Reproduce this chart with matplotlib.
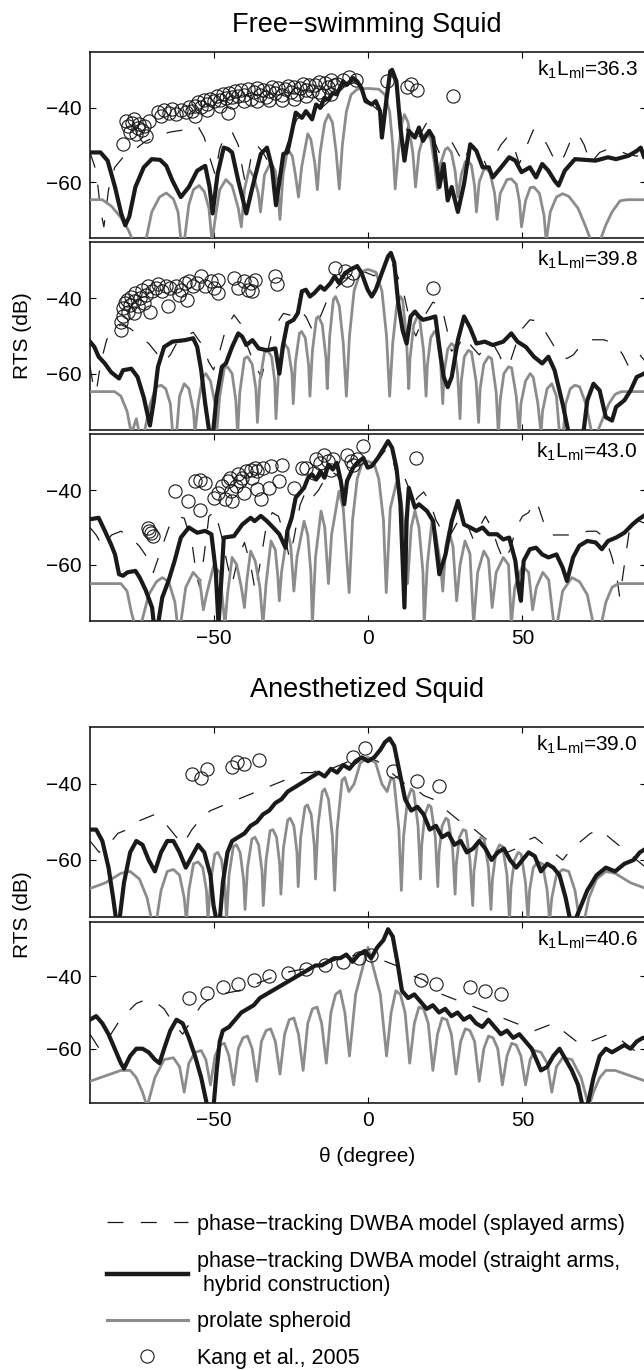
import matplotlib
matplotlib.use("Agg")
import matplotlib.pyplot as plt
from matplotlib.lines import Line2D

plt.rcParams['font.family'] = ['Liberation Sans', 'DejaVu Sans']
plt.rcParams['mathtext.default'] = 'regular'
plt.rcParams['lines.scale_dashes'] = False

# ---------------- data: (theta [degree], RTS [dB]) ----------------
labels_k = ["36.3", "39.8", "43.0", "39.0", "40.6"]

# Panel 1 : free-swimming, k1Lml = 36.3
p1_gray = [(-90,-64.7),(-86,-64.7),(-83,-66.5),(-80,-69.5),(-77.5,-73),(-76,-76),(-72,-76),(-70,-68),(-67.5,-64),(-65.3,-62.9),(-63,-64.5),(-61.5,-68),(-60.5,-76),(-59.5,-76),(-58,-66),(-56.5,-62),(-54.7,-60.9),(-53,-62.5),(-51.5,-67),(-50.5,-76),(-49.5,-70),(-48,-62),(-46,-59.3),(-44,-61),(-42,-67),(-41,-72),(-40,-62),(-38.5,-56.5),(-37,-58.5),(-35.5,-63),(-34.8,-68),(-33.5,-58),(-31.5,-54.7),(-30,-57),(-29,-64),(-28.5,-70),(-27.5,-58),(-26,-51),(-24.5,-53),(-23.5,-58),(-22.5,-64),(-21.5,-56),(-19.5,-47),(-18.5,-48.5),(-17.2,-55),(-16.4,-62),(-15.5,-52),(-14,-44),(-12.8,-41.8),(-11.5,-44),(-10.3,-52),(-9.3,-61.8),(-8.3,-50),(-7,-41),(-5.5,-36.5),(-3.5,-35),(0,-34.8),(3.5,-35),(5.5,-36.5),(7,-41),(8,-50),(8.8,-61.8),(9.8,-52),(11,-44),(11.8,-41.8),(13,-44),(14.5,-52),(15.4,-61.3),(16.5,-52),(18,-47.5),(19.1,-46.7),(20.3,-48.5),(21.5,-55),(22.5,-62),(23.5,-55),(25,-51.2),(25.8,-50.7),(27,-52),(28.2,-57),(29.1,-64),(30.2,-58),(31.5,-54.5),(32.4,-54.2),(33.5,-55.5),(34.5,-61),(35.1,-68),(36,-60),(37.5,-56.6),(38.4,-56.4),(39.5,-57.5),(41,-63),(41.8,-70),(42.8,-63),(45,-59.3),(46.4,-59.1),(48,-60.5),(49,-65),(49.7,-72),(51,-65),(52.5,-61.5),(53.7,-61.3),(55.5,-63),(57,-69),(57.7,-76),(59,-68),(61,-64),(63,-63.1),(65,-63.8),(68,-67),(70.5,-72),(72.3,-76),(75,-76),(77,-71.5),(79,-68),(81.6,-65),(84,-64.7),(90,-64.7)]
p1_black = [(-90,-52.0),(-86.6,-52.0),(-84.3,-54.2),(-81.9,-61.3),(-79.9,-68.4),(-78.6,-71.6),(-77.3,-69.3),(-75.3,-61.3),(-72.6,-56.0),(-70.0,-53.8),(-67.3,-54.0),(-65.3,-55.6),(-63.3,-59.6),(-60.6,-64.0),(-58.0,-61.3),(-55.3,-56.9),(-52.7,-55.6),(-51.3,-61.3),(-50.3,-68.4),(-48.7,-57.8),(-46.7,-50.7),(-45.3,-51.1),(-44.0,-52.0),(-42.0,-59.6),(-39.4,-68.4),(-37.4,-61.3),(-34.7,-52.4),(-32.7,-50.7),(-31.1,-56.0),(-29.8,-66.2),(-28.5,-58.7),(-27.4,-52.4),(-26.1,-52.0),(-24.7,-46.7),(-23.4,-41.3),(-21.4,-42.7),(-20.1,-40.9),(-18.1,-43.1),(-16.8,-39.1),(-15.4,-40.0),(-14.1,-37.3),(-12.8,-37.8),(-11.4,-36.0),(-10.1,-36.4),(-8.1,-32.9),(-6.8,-33.8),(-4.8,-32.0),(-3.5,-32.9),(-2.1,-34.7),(-0.8,-38.2),(1.2,-39.1),(2.5,-38.2),(3.9,-40.9),(4.5,-48.0),(5.9,-38.2),(7.2,-30.2),(7.8,-29.8),(9.2,-32.9),(10.5,-45.3),(11.8,-54.2),(13.2,-46.2),(15.2,-48.0),(16.5,-45.3),(17.8,-48.9),(19.8,-46.2),(21.1,-48.0),(23.1,-61.3),(24.5,-55.1),(25.8,-64.9),(27.1,-61.3),(29.1,-68.0),(31.1,-60.4),(33.1,-49.8),(35.1,-51.6),(37.1,-56.0),(39.1,-56.0),(40.4,-58.7),(43.1,-56.0),(45.7,-53.3),(47.7,-54.2),(49.7,-57.3),(52.4,-56.0),(54.4,-58.7),(56.4,-55.1),(58.4,-56.9),(60.4,-59.6),(61.7,-60.9),(63.7,-56.9),(67.0,-53.8),(73.7,-54.2),(77.7,-53.3),(80.3,-53.8),(84.3,-52.9),(87.0,-51.6),(88.3,-50.7),(89.4,-53.3),(90,-53.0)]
p1_dash = [(-90,-52),(-88,-57),(-86.5,-68),(-85.5,-72),(-84,-62),(-82,-56),(-79,-53),(-76,-51.5),(-72,-49),(-68,-47.5),(-64,-46.5),(-60,-46),(-57,-45.5),(-55,-45),(-53,-48),(-51,-54),(-49.5,-58),(-48,-51),(-46,-47),(-44,-46.5),(-42,-50),(-40.5,-57),(-39.5,-61),(-38,-54),(-36,-50),(-34,-52),(-32,-55),(-30,-60),(-28.5,-58),(-27,-52),(-25,-47),(-23,-43),(-21,-42),(-19,-42.5),(-17,-41),(-15,-40),(-13,-38.5),(-11,-37),(-9,-35),(-7,-33.5),(-5,-33),(-3,-34),(-1,-37),(1,-39),(3,-40.5),(4.5,-46),(5.5,-40),(7,-32),(8.5,-31),(10,-37),(11.5,-48),(13,-45),(15,-50),(17,-47),(19,-44),(21,-48),(23,-52),(25,-50),(27,-49),(29,-52),(31,-55),(33,-50),(35,-50.5),(37,-53),(39,-57),(41,-53),(43,-50),(45,-48),(47,-50),(49,-55),(51,-51),(53.5,-46),(55.5,-46.5),(58,-50),(61,-55),(63.5,-53),(66,-48),(68,-47),(70,-50),(72,-55),(75,-52),(78,-51),(81,-51.5),(84,-52.5),(87,-53),(90,-52)]
p1_circ = [(-79.3,-49.8),(-78.5,-43.5),(-77.8,-45),(-77,-46.5),(-76.5,-44),(-75.8,-43),(-75,-47),(-74.5,-45.5),(-74,-44.3),(-73.3,-46),(-72.5,-44.8),(-71.8,-47.5),(-71,-43.5),(-68,-41),(-67,-42.2),(-66,-40.5),(-64.5,-41.5),(-63.5,-40.2),(-62,-41.8),(-60.5,-40.5),(-59,-41),(-58,-39.8),(-57,-40.8),(-56,-39.5),(-56,-42.2),(-55,-38.5),(-54,-39.8),(-53,-38),(-52,-39),(-52,-40.5),(-51,-37.5),(-50,-38.3),(-49,-36.8),(-48,-37.8),(-48,-39.5),(-47,-36.3),(-46,-37.3),(-45.3,-41.3),(-45,-36),(-44,-37),(-44,-38.5),(-43,-35.5),(-42,-36.8),(-41,-35.2),(-40,-36.5),(-40,-38.3),(-39,-35),(-38,-37.5),(-37,-35.8),(-36,-34.8),(-36,-38.2),(-35,-36.5),(-34,-35.2),(-33,-37.2),(-32,-35.5),(-32,-37.8),(-31,-34.5),(-30,-36),(-29,-34.8),(-28,-36.5),(-28,-38),(-27,-35),(-26,-34.2),(-25,-35.8),(-24,-34.5),(-24,-37.5),(-23,-36.2),(-22,-34.8),(-21,-33.5),(-20,-35.2),(-20,-36.8),(-19,-33.8),(-18,-35.5),(-17,-34),(-16,-33),(-16,-35.8),(-15,-36.5),(-14,-33.2),(-13,-34.5),(-12,-32.5),(-12,-36.2),(-11,-34),(-10,-33.5),(-8,-32.5),(-6,-31.8),(-4,-32.5),(6,-32.9),(12.5,-34.3),(13.8,-33.5),(15.8,-35.3),(27.5,-36.9)]

# Panel 2 : free-swimming, k1Lml = 39.8
p2_gray = [(-90,-64.8),(-82,-64.8),(-80,-66),(-78,-70),(-76.6,-76),(-75,-72),(-74,-76),(-72.5,-76),(-70.5,-68),(-68.5,-63.5),(-67,-63.1),(-65.5,-64),(-64,-68),(-63.2,-76),(-62,-76),(-61,-66),(-59.5,-62.7),(-58,-64),(-56.5,-70),(-56,-76),(-55,-68),(-53.5,-61),(-52.5,-60),(-51,-62),(-49.5,-68),(-49,-76),(-48,-66),(-46.5,-58.5),(-45.5,-58.2),(-44,-60),(-42.8,-67),(-42.2,-76),(-41.5,-65),(-40,-56),(-39,-55.5),(-37.5,-57.5),(-36.3,-64),(-35.8,-73),(-35,-62),(-33.5,-54.3),(-32.5,-53.8),(-31.2,-55.5),(-30.2,-62),(-29.8,-72),(-29,-60),(-27.8,-52.5),(-27,-52),(-25.8,-53.5),(-24.6,-60),(-24.2,-68),(-23.5,-57),(-22.2,-49.3),(-21.5,-48.8),(-20.3,-50.5),(-19.2,-58),(-18.8,-66),(-18,-54),(-16.7,-45.3),(-16,-44.8),(-14.8,-47),(-13.6,-56),(-13.2,-64),(-12.4,-50),(-11.2,-40.3),(-10.5,-39.5),(-9.3,-42),(-8,-52),(-7,-66),(-6,-50),(-4.5,-38),(-2.5,-33),(0,-32.3),(2.5,-33),(4.5,-38),(6,-50),(7,-66),(8,-52),(9.3,-42),(10.5,-39.5),(11.2,-40.3),(12.4,-50),(13.2,-64),(13.6,-56),(14.8,-47),(16,-44.8),(16.7,-45.3),(18,-54),(18.8,-66),(19.2,-58),(20.3,-50.5),(21.5,-48.8),(22.2,-49.3),(23.5,-57),(24.2,-68),(24.6,-60),(25.8,-53.5),(27,-52),(27.8,-52.5),(29,-60),(29.8,-72),(30.2,-62),(31.2,-55.5),(32.5,-53.8),(33.5,-54.3),(35,-62),(35.8,-73),(36.3,-64),(37.5,-57.5),(39,-55.5),(40,-56),(41.5,-65),(42.2,-76),(42.8,-67),(44,-60),(45.5,-58.2),(46.5,-58.5),(48,-66),(49,-76),(49.5,-68),(51,-62),(52.5,-60),(53.5,-61),(55,-68),(56,-76),(56.5,-70),(58,-64),(59.5,-62.7),(61,-66),(62,-76),(63.2,-76),(64,-68),(65.5,-64),(67,-63.1),(68.5,-63.5),(70.5,-68),(72.5,-76),(74,-76),(76,-72),(78,-68),(80,-65.5),(82,-64.8),(90,-64.8)]
p2_black = [(-90,-51.5),(-88.6,-52.9),(-87.2,-55.5),(-85.2,-57.3),(-83.2,-59.6),(-80.6,-61.3),(-79.3,-59.1),(-76.6,-58.7),(-74.6,-60.9),(-72.6,-66.3),(-70.6,-73.8),(-69.3,-67.1),(-68,-58.2),(-66,-52.9),(-63.3,-51.5),(-59.3,-51.1),(-56.6,-50.6),(-55.3,-52.9),(-54,-59.1),(-52.7,-68),(-51.3,-76),(-50.2,-76),(-49,-66),(-47.3,-58.2),(-46,-57.3),(-44,-52.9),(-42,-49.3),(-40.7,-50.2),(-39.4,-52.4),(-37.4,-51.1),(-35.4,-53.3),(-32.7,-53.8),(-30,-53.3),(-28.7,-60),(-27.4,-52),(-26.1,-46.6),(-24.1,-45.7),(-22.7,-43.9),(-21.4,-38.1),(-20.1,-37.7),(-18.8,-39.5),(-17.4,-38.6),(-15.4,-36.8),(-14.1,-37.7),(-12.1,-35.9),(-10.8,-34.1),(-9.4,-35.9),(-7.4,-33.2),(-5.5,-32.3),(-3.5,-31.4),(-2.1,-33.2),(-0.1,-37.7),(1.2,-39.5),(2.5,-37.7),(4.5,-33.2),(6.5,-28.8),(7.4,-27.9),(8.5,-30.5),(9.8,-41.3),(11.2,-48.4),(12.5,-52),(13.8,-44.8),(15.2,-43.5),(16.5,-44.8),(17.8,-45.7),(19.8,-45.3),(21.8,-44.8),(23.1,-52.9),(24.5,-60.9),(25.8,-63.6),(27.1,-60.9),(29.1,-51.1),(31.1,-44.8),(33.1,-47.9),(35.1,-52),(37.8,-51.5),(40.4,-52.4),(43.8,-51.5),(46.4,-49.3),(48.4,-51.5),(51.1,-52.9),(53.7,-55.5),(56.4,-57.3),(58.4,-55.5),(60.4,-59.1),(63,-68),(65,-76),(69.7,-76),(71,-67.1),(73,-62.7),(75,-64.5),(77,-71.6),(79,-72.5),(80.3,-68.9),(83,-67.1),(85,-64.5),(87,-60.9),(89.4,-60),(90,-59.5)]
p2_dash = [(-90,-58),(-89,-63),(-88,-65),(-86.5,-57),(-84.6,-51),(-82,-48),(-80,-47),(-77,-48),(-74,-50),(-71,-52),(-68,-55),(-66,-57),(-64,-55),(-62,-52),(-59,-50),(-56.6,-49),(-54,-52),(-51.5,-57),(-50,-59),(-48,-54),(-46,-48),(-43.4,-44.4),(-41,-47),(-39.4,-52),(-37,-57),(-34.5,-61),(-33,-56),(-31.4,-50),(-29,-46),(-27.4,-44),(-25,-44.5),(-22,-43),(-20,-45),(-18,-48.5),(-16,-46),(-13,-40),(-10,-37),(-7,-35),(-4,-33),(-1,-33),(2,-34),(5,-32),(8,-31),(10,-35),(11.8,-39.5),(13.8,-47),(15.5,-50),(18,-45),(21,-41),(23.8,-42),(25.5,-48),(27,-54),(29,-53),(31,-50),(33.8,-53),(36,-55),(38,-53),(40.4,-52),(42.5,-55),(44,-58),(46,-57),(48,-52),(50,-48),(52.4,-45.7),(55,-46),(57.5,-49),(59.7,-52),(62,-55),(64.4,-56),(66.5,-55),(68.4,-53),(72.3,-51),(76.3,-51),(80,-52),(82.5,-55),(84.3,-58),(86,-56),(88,-55),(90,-57)]
p2_circ = [(-79.9,-48.4),(-79.9,-46.2),(-79.3,-44.8),(-79.3,-42.6),(-78.6,-41.3),(-77.9,-40.4),(-77.7,-43.5),(-76.9,-41.7),(-76.6,-39.5),(-75.9,-40.8),(-75.9,-43.9),(-75.3,-38.6),(-74.6,-42.1),(-73.9,-39.9),(-73.3,-37.7),(-72.6,-41.3),(-71.9,-39.0),(-71.3,-36.8),(-70.6,-43.5),(-69.9,-38.1),(-68.6,-37.2),(-68.0,-36.3),(-66.6,-38.1),(-65.3,-36.8),(-64.6,-42.1),(-64.0,-37.2),(-62.0,-36.8),(-61.3,-39.0),(-60.6,-37.7),(-59.3,-35.9),(-58.6,-40.4),(-58.0,-35.4),(-56.6,-36.8),(-55.3,-35.9),(-54.0,-34.1),(-52.7,-36.8),(-50.7,-35.4),(-50.0,-37.2),(-48.7,-35.0),(-48.7,-38.6),(-43.4,-34.6),(-42.0,-37.2),(-40.0,-35.4),(-38.7,-37.7),(-38.0,-35.9),(-37.4,-38.1),(-36.7,-35.0),(-30.1,-34.1),(-29.4,-36.3),(-10.8,-31.9),(-7.4,-32.8),(-6.8,-35.0),(-4.8,-33.2),(21.1,-37.2)]

# Panel 3 : free-swimming, k1Lml = 43.0
p3_gray = [(-90,-65),(-80,-65),(-78,-67),(-76.6,-72.7),(-75.5,-76),(-73.5,-76),(-71,-68),(-68.5,-64.5),(-66.6,-63.4),(-64.5,-64.5),(-62.5,-70),(-61.7,-76),(-60.7,-76),(-59,-66),(-56.6,-62),(-54.5,-64),(-53.3,-72),(-52.3,-68),(-50,-60.3),(-48,-62),(-46.3,-76),(-45.5,-68),(-44,-58),(-42.5,-60),(-41,-66),(-40,-71.4),(-39.2,-64),(-38,-56.3),(-36.5,-59),(-35,-66),(-34,-76),(-33,-65),(-31.4,-53.6),(-30,-56),(-29.2,-63),(-28.7,-69.6),(-28,-62),(-26,-51),(-25,-55),(-24,-67),(-23,-58),(-20.7,-48.3),(-19.5,-52),(-18.5,-62),(-18,-76),(-17,-58),(-15.2,-45.6),(-14,-50),(-12.8,-65),(-11.8,-52),(-9.4,-40.3),(-8,-45),(-6.1,-67.4),(-5,-48),(-3.5,-37),(-2,-33),(0,-32.3),(2,-33),(3.5,-37),(5,-48),(5.9,-67.4),(7.2,-45),(9.2,-38),(10.5,-41),(12,-52),(12.8,-65),(14,-50),(15.2,-45.5),(16.5,-50),(17.8,-62),(18.2,-76),(19.2,-60),(20.7,-48.3),(22,-52),(23.5,-60),(24.2,-67),(25.2,-55),(26.2,-51),(27.5,-55),(28.7,-69.6),(29.8,-60),(31.4,-53.6),(33,-57),(34.2,-76),(35.5,-62),(37.5,-56.3),(39,-58.5),(40.2,-71.4),(41.5,-62),(43.8,-58),(45.5,-60),(46.4,-76),(47.5,-66),(50,-60.3),(52,-62),(53.3,-72),(54.5,-66),(56.6,-62),(58.5,-64),(60.2,-76),(61.2,-76),(63,-67),(66,-63.4),(68.5,-64.5),(71,-68),(73,-76),(75.5,-76),(77,-70),(79,-66),(81,-65),(90,-65)]
p3_black = [(-90,-47.8),(-87.2,-47.4),(-85.2,-50.9),(-83.2,-54.5),(-81.9,-57.2),(-80.6,-62.5),(-79.3,-62.9),(-77.9,-62.0),(-75.3,-61.6),(-73.9,-63.4),(-71.9,-66.9),(-69.9,-71.4),(-69.3,-76),(-68.0,-76),(-66.6,-68.7),(-64.6,-64.3),(-62.6,-58.9),(-60.6,-52.7),(-58.0,-50.0),(-55.3,-51.4),(-52.7,-50.9),(-50.7,-51.8),(-49.3,-61.6),(-48.4,-76),(-47.3,-61.6),(-46.7,-52.7),(-43.4,-52.3),(-40.7,-49.2),(-38.0,-47.4),(-36.7,-48.3),(-34.7,-46.9),(-32.7,-48.3),(-30.7,-50.0),(-28.7,-51.8),(-26.7,-55.4),(-26.1,-50.9),(-24.7,-47.4),(-23.4,-42.0),(-20.7,-39.4),(-19.4,-36.7),(-18.1,-35.8),(-16.8,-37.2),(-15.4,-34.9),(-14.1,-36.7),(-12.8,-33.2),(-11.4,-34.5),(-10.1,-32.7),(-8.8,-37.6),(-7.7,-43.8),(-6.8,-37.6),(-4.8,-34.0),(-3.5,-32.7),(-1.5,-31.4),(-0.1,-34.0),(1.2,-33.6),(3.2,-31.4),(5.2,-28.7),(6.5,-26.9),(7.8,-28.7),(9.2,-34.0),(10.5,-43.8),(11.8,-71.4),(12.5,-48.3),(13.2,-39.4),(15.2,-44.7),(16.5,-43.8),(19.1,-45.6),(21.1,-48.3),(23.1,-62.5),(25.1,-57.2),(27.1,-48.3),(29.1,-42.9),(31.1,-49.2),(33.1,-50.0),(35.1,-50.9),(37.1,-50.0),(39.1,-51.8),(41.8,-51.8),(43.8,-53.2),(45.7,-52.7),(47.7,-58.9),(48.7,-66.0),(49.5,-69.6),(50.4,-58.9),(52.4,-55.8),(54.4,-55.4),(56.4,-57.2),(58.4,-58.0),(61.0,-57.2),(63.0,-60.7),(64.4,-64.3),(66.4,-58.0),(68.4,-54.9),(71.0,-53.6),(73.7,-54.0),(75.7,-55.8),(77.7,-53.6),(80.3,-52.7),(83.0,-51.4),(85.6,-49.2),(87.6,-47.8),(90,-46.5)]
p3_dash = [(-90,-50),(-88,-52),(-86,-55),(-83,-52),(-80,-51),(-77,-52.5),(-74,-55),(-71.5,-58),(-69.5,-62),(-67,-56),(-64.5,-50),(-62,-47),(-59.5,-47.5),(-57,-54),(-55.5,-63),(-54.5,-66),(-53,-57),(-51.5,-47),(-49.5,-45.6),(-47.5,-52),(-45.5,-60),(-44,-65),(-42,-58),(-40,-54),(-38,-60),(-36.5,-67),(-35,-60),(-33,-50),(-31,-46),(-29,-47),(-27,-52),(-25.5,-58),(-24,-53),(-22,-44),(-20,-40),(-18,-42),(-16,-40),(-14,-37),(-12,-35),(-10,-36),(-8,-39),(-6,-35),(-4,-33),(-2,-33.5),(0,-34.5),(2,-33),(4,-31),(6,-29),(8,-32),(10,-38),(11.5,-36),(13,-39),(14.5,-44),(16,-42),(18,-40.5),(20,-43),(22,-48),(24,-51),(26,-53),(28,-50),(30,-47),(32,-49),(34,-53),(36,-50),(38,-47),(40,-50),(42,-55),(44,-59),(46,-56),(48,-50),(50,-47),(52,-46),(53.7,-42.9),(55,-44),(57,-49),(59,-52),(62,-52),(65,-52),(68,-52),(71,-51),(74,-51),(77,-53),(79,-58),(80.5,-63),(81.5,-68.7),(83,-60),(85,-48.5),(87,-48),(90,-49)]
p3_circ = [(-71.3,-50.2),(-70.3,-51.5),(-69.6,-52.3),(-70.8,-51.0),(-62.6,-40.3),(-58.4,-42.9),(-56.0,-37.6),(-54.3,-37.2),(-52.7,-38.0),(-54.4,-45.2),(-50.0,-42.0),(-48.7,-40.7),(-47.3,-38.9),(-46.3,-42.5),(-45.3,-37.6),(-44.7,-36.7),(-44.3,-40.3),(-44.0,-42.9),(-42.7,-38.9),(-42.0,-35.8),(-41.4,-37.6),(-40.7,-36.7),(-40.0,-40.7),(-39.4,-34.9),(-38.0,-34.5),(-37.4,-36.7),(-36.7,-34.0),(-36.0,-34.9),(-36.0,-39.8),(-34.7,-42.5),(-34.0,-34.0),(-32.0,-39.4),(-31.4,-33.6),(-28.7,-37.6),(-27.7,-33.2),(-24.1,-39.4),(-21.4,-34.0),(-20.1,-34.0),(-17.4,-35.4),(-16.8,-31.8),(-15.4,-32.7),(-14.1,-30.5),(-12.8,-32.3),(-12.1,-34.5),(-11.4,-31.8),(-6.8,-30.5),(-5.5,-32.3),(-4.8,-33.2),(-3.5,-31.8),(-1.5,-28.3),(15.4,-31.4)]

# Panel 4 : anesthetized, k1Lml = 39.0
p4_gray = [(-90,-67.5),(-85,-66),(-80,-63.5),(-77,-63),(-74,-65),(-71.5,-70),(-70,-76),(-68.5,-76),(-67,-68),(-65,-63),(-63,-62.5),(-61,-64),(-59.5,-70),(-58.8,-76),(-58,-68),(-56.5,-61),(-55,-60.5),(-53.5,-62),(-52.3,-68),(-51.8,-76),(-51,-66),(-49.6,-58.5),(-48.6,-58),(-47.4,-60),(-46.3,-67),(-45.8,-76),(-45,-64),(-43.6,-56.5),(-42.6,-56),(-41.4,-58),(-40.3,-65),(-39.8,-73),(-39,-62),(-37.6,-54.5),(-36.6,-54),(-35.4,-56),(-34.3,-63),(-33.9,-72),(-33,-60),(-31.7,-52.3),(-30.8,-52),(-29.6,-54),(-28.6,-61),(-28.2,-69),(-27.4,-57),(-26,-49.5),(-25.2,-49),(-24,-51),(-23,-58),(-22.6,-67),(-21.8,-54),(-20.4,-46),(-19.6,-45.5),(-18.4,-48),(-17.4,-56),(-17,-65),(-16.2,-51),(-14.8,-42),(-14,-41.3),(-12.8,-44),(-11.5,-54),(-10.8,-68),(-10,-52),(-8.4,-39),(-7.5,-38.3),(-6.2,-42),(-4.5,-40),(-2.5,-34.5),(0,-33),(2.5,-34.5),(4.5,-40),(6.2,-42),(7.5,-38.3),(8.4,-39),(10,-52),(10.8,-68),(11.5,-54),(12.8,-44),(14,-41.3),(14.8,-42),(16.2,-51),(17,-65),(17.4,-56),(18.4,-48),(19.6,-45.5),(20.4,-46),(21.8,-54),(22.6,-67),(23,-58),(24,-51),(25.2,-49),(26,-49.5),(27.4,-57),(28.2,-69),(28.6,-61),(29.6,-54),(30.8,-52),(31.7,-52.3),(33,-60),(33.9,-72),(34.3,-63),(35.4,-56),(36.6,-54),(37.6,-54.5),(39,-62),(39.8,-73),(40.3,-65),(41.4,-58),(42.6,-56),(43.6,-56.5),(45,-64),(45.8,-76),(46.3,-67),(47.4,-60),(48.6,-58),(49.6,-58.5),(51,-66),(51.8,-76),(52.3,-68),(53.5,-62),(55,-60.5),(56.5,-61),(58,-68),(58.8,-76),(59.5,-70),(61,-64),(63,-62.5),(65,-63),(67,-68),(68.5,-76),(70,-76),(71.5,-70),(74,-65),(77,-63),(80,-63.5),(85,-66),(90,-67.5)]
p4_black = [(-90,-52),(-88,-52),(-86,-55),(-84,-62),(-82.5,-70),(-81.5,-76),(-80.5,-76),(-79,-66),(-77,-58),(-75,-55),(-73,-56),(-71,-60),(-69,-63),(-67,-58),(-65,-55),(-63,-55),(-61,-58),(-59,-62),(-57,-59),(-55,-56),(-53,-58),(-51,-64),(-50,-72),(-49,-76),(-48,-76),(-47,-66),(-45.5,-58),(-44,-55),(-42,-54),(-40,-53),(-38,-51),(-36,-50),(-34,-48),(-32,-47),(-30,-45),(-28,-44),(-26,-42),(-24,-41),(-22,-40),(-20,-39),(-18,-38),(-16,-37),(-14,-38),(-12,-36),(-10,-37),(-8,-35),(-6,-36),(-4,-34),(-2,-33),(0,-34),(2,-33),(4,-31),(5.5,-29),(7,-28),(8.5,-30),(10,-36),(12,-44),(14,-47),(16,-46),(18,-48),(20,-52),(22,-51),(24,-54),(26,-53),(28,-56),(30,-55),(32,-58),(34,-57),(36,-55),(38,-57),(40,-60),(42,-58),(44,-57),(46,-60),(48,-62),(50,-60),(52,-58),(54,-59),(56,-63),(58,-61),(60,-62),(62,-64),(64,-70),(65.5,-76),(67,-76),(69,-72),(71,-68),(74,-64),(77,-62),(80,-63),(83,-61),(86,-60),(88,-58),(90,-57)]
p4_dash = [(-90,-55),(-87,-58),(-84,-56),(-81,-53),(-78,-52),(-75,-50),(-72,-49),(-69,-48),(-66,-50),(-63,-53),(-60,-56),(-57,-52),(-54,-49),(-51,-47),(-48,-46),(-45,-45),(-42,-44),(-39,-43),(-36,-42),(-33,-41),(-30,-40),(-27,-39),(-24,-38),(-21,-37),(-18,-37),(-15,-36),(-12,-36),(-9,-35),(-6,-34),(-3,-33),(0,-33),(3,-34),(6,-36),(9,-38),(12,-40),(15,-41),(18,-43),(21,-44),(24,-46),(27,-48),(30,-50),(33,-51),(36,-53),(39,-55),(42,-56),(45,-58),(48,-57),(51,-55),(54,-54),(57,-56),(60,-58),(63,-60),(66,-57),(69,-55),(72,-53),(75,-52),(78,-54),(81,-56),(84,-58),(87,-60),(90,-62)]
p4_circ = [(-57,-37.3),(-54,-38.5),(-52,-36),(-44,-35.5),(-42.5,-34.3),(-40,-34.8),(-35.4,-33.8),(-5,-33),(-1,-30.5),(8,-36.5),(16,-39.2),(23,-40.5)]

# Panel 5 : anesthetized, k1Lml = 40.6
p5_gray = [(-90,-69),(-85,-67.5),(-80,-66),(-77,-66),(-75,-68),(-73,-72),(-71.5,-76),(-69,-68),(-66,-63),(-63,-62.5),(-61,-65),(-59.5,-72),(-58,-64),(-56,-61),(-54,-60.5),(-52.5,-63),(-51,-70),(-49.5,-62),(-48,-59),(-46.5,-58.5),(-45,-62),(-43.5,-70),(-42,-60),(-40.5,-57),(-39,-56.5),(-37.5,-60),(-36,-69),(-34.5,-58),(-33,-55),(-31.5,-54.5),(-30,-58),(-28.5,-67),(-27,-56),(-25.5,-52),(-24,-51.5),(-22.5,-56),(-21,-66),(-19.5,-53),(-18,-49),(-16.5,-48.5),(-15,-53),(-13.5,-64),(-12,-50),(-10.5,-45),(-9,-44),(-7.5,-50),(-6,-62),(-4,-45),(0,-32),(4,-45),(6,-62),(7.5,-50),(9,-44),(10.5,-45),(12,-50),(13.5,-64),(15,-53),(16.5,-48.5),(18,-49),(19.5,-53),(21,-66),(22.5,-56),(24,-51.5),(25.5,-52),(27,-56),(28.5,-67),(30,-58),(31.5,-54.5),(33,-55),(34.5,-58),(36,-69),(37.5,-60),(39,-56.5),(40.5,-57),(42,-60),(43.5,-70),(45,-62),(46.5,-58.5),(48,-59),(49.5,-62),(51,-70),(52.5,-63),(54,-60.5),(56,-61),(58,-64),(59.5,-72),(61,-65),(63,-62.5),(66,-63),(69,-68),(71.5,-76),(73,-72),(75,-68),(77,-66),(80,-66),(85,-67.5),(90,-69)]
p5_black = [(-90,-52),(-88,-51),(-86,-53),(-84,-56),(-82,-60),(-80,-64),(-79,-65.5),(-77,-62),(-75,-60),(-73,-60),(-71,-61),(-69,-63),(-67.5,-64),(-66,-60),(-64,-55),(-62,-52),(-60,-53),(-58,-57),(-56,-62),(-54,-68),(-52,-76),(-50,-76),(-49,-66),(-48,-58),(-47,-55),(-45,-54),(-43,-52),(-41,-50),(-39,-49),(-37,-48),(-35,-46),(-33,-45),(-31,-44),(-29,-43),(-27,-42),(-25,-41),(-23,-40),(-21,-39),(-19,-38),(-17,-37),(-15,-37),(-13,-36),(-11,-35),(-9,-35),(-7,-34),(-5,-36),(-3,-34),(-1,-33),(1,-35),(3,-32),(5,-30),(6.5,-27),(8,-29),(9.5,-36),(11,-44),(13,-46),(15,-45),(17,-47),(19,-49),(21,-48),(23,-50),(25,-49),(27,-51),(29,-50),(31,-52),(33,-51),(35,-53),(37,-54),(39,-52),(41,-54),(43,-56),(45,-55),(47,-57),(49,-56),(51,-58),(53,-60),(54.5,-63),(56,-66),(58,-65),(60,-62),(62,-60),(64,-63),(66,-66),(68,-70),(69.5,-76),(71,-76),(73,-68),(75,-62),(77,-60),(79,-61),(81,-60),(83,-59),(85,-60),(87,-58),(89,-57),(90,-57)]
p5_dash = [(-90,-56),(-87,-60),(-84,-57),(-81,-53),(-78,-50),(-75,-47.5),(-72,-46.5),(-69,-47),(-66,-49),(-63,-53),(-60,-56),(-57,-52),(-54,-48),(-51,-46),(-48,-45),(-45,-44.5),(-42,-44),(-39,-43),(-36,-42),(-33,-41),(-30,-40),(-27,-39),(-24,-38.5),(-21,-38),(-18,-37),(-15,-36.5),(-12,-36),(-9,-35),(-6,-34.5),(-3,-34),(0,-34),(3,-35),(6,-36),(9,-37),(12,-39),(15,-40),(18,-41),(21,-43),(24,-45),(27,-46),(30,-47),(33,-48),(36,-49),(39,-50),(42,-51),(45,-52),(48,-53),(51,-54),(54,-55),(57,-54),(60,-53),(63,-55),(66,-57),(69,-59),(72,-58),(75,-57),(78,-56),(81,-57),(84,-59),(87,-61),(90,-62)]
p5_circ = [(-58,-46),(-52,-44.5),(-47,-43),(-42,-42),(-37,-41),(-32,-40),(-26,-39),(-20,-38),(-14,-37),(-8,-36),(-3,-35),(1,-34),(17,-41),(22,-42),(33,-43),(38,-44),(43,-45)]

panels = [
    (p1_gray, p1_black, p1_dash, p1_circ),
    (p2_gray, p2_black, p2_dash, p2_circ),
    (p3_gray, p3_black, p3_dash, p3_circ),
    (p4_gray, p4_black, p4_dash, p4_circ),
    (p5_gray, p5_black, p5_dash, p5_circ),
]

xticks = [-50, 0, 50]
yticks = [-60, -40]
legend_labels = ["phase\u2212tracking DWBA model (splayed arms)",
                 "phase\u2212tracking DWBA model (straight arms,\n hybrid construction)",
                 "prolate spheroid",
                 "Kang et al., 2005"]


def xy(pairs):
    return [p[0] for p in pairs], [p[1] for p in pairs]


# ---------------- figure ----------------
W, H = 644, 1370
fig = plt.figure(figsize=(W / 100, H / 100), dpi=100)

boxes = [(52, 238), (242, 430), (434, 621), (727, 917), (922, 1103)]
left_px, right_px = 90, 646

BLACK = '#1a1a1a'
GRAY = '#8c8c8c'
DASH = (0, (11.5, 12.5))
MS = 9.5

for i, ((top, bot), data) in enumerate(zip(boxes, panels)):
    ax = fig.add_axes([left_px / W, 1 - bot / H, (right_px - left_px) / W, (bot - top) / H])
    gray, black, dash, circ = data
    ax.plot(*xy(dash), color=BLACK, lw=0.9, linestyle=DASH, zorder=2)
    ax.plot(*xy(gray), color=GRAY, lw=2.0, zorder=3, solid_joinstyle='round')
    ax.plot(*xy(black), color=BLACK, lw=3.0, zorder=4, solid_joinstyle='round')
    ax.plot(*xy(circ), linestyle='none', marker='o', ms=MS, mfc='none', mec=BLACK, mew=0.8, zorder=5)
    ax.set_xlim(-90, 90)
    ax.set_ylim(-75, -25)
    ax.set_xticks(xticks)
    ax.set_yticks(yticks)
    ax.tick_params(direction='in', length=4, width=0.8, top=True, right=True, labelsize=15, pad=6)
    for sp in ax.spines.values():
        sp.set_linewidth(1.2)
        sp.set_color(BLACK)
    if i not in (2, 4):
        ax.set_xticklabels([])
    ax.text(0.985, 0.965, "k$_1$L$_{ml}$=" + labels_k[i], transform=ax.transAxes,
            ha='right', va='top', fontsize=15)

fig.text(367 / W, 1 - 25 / H, "Free\u2212swimming Squid", ha='center', va='center', fontsize=19.5)
fig.text(367 / W, 1 - 690 / H, "Anesthetized Squid", ha='center', va='center', fontsize=19.5)
fig.text(22 / W, 1 - 336 / H, "RTS (dB)", rotation=90, ha='center', va='center', fontsize=15)
fig.text(22 / W, 1 - 915 / H, "RTS (dB)", rotation=90, ha='center', va='center', fontsize=15)
fig.text(367 / W, 1 - 1157 / H, "\u03b8 (degree)", ha='center', va='center', fontsize=15)

handles = [
    Line2D([], [], color=BLACK, lw=0.9, linestyle=DASH),
    Line2D([], [], color=BLACK, lw=3.2),
    Line2D([], [], color=GRAY, lw=2.2),
    Line2D([], [], linestyle='none', marker='o', ms=MS, mfc='none', mec=BLACK, mew=0.8),
]
fig.legend(handles, legend_labels, loc='upper left', bbox_to_anchor=(107 / W, 1 - 1214 / H),
           frameon=False, fontsize=15.5, handlelength=3.75, handletextpad=0.42,
           labelspacing=0.72, borderpad=0, borderaxespad=0)

fig.savefig("out.png", dpi=100)
